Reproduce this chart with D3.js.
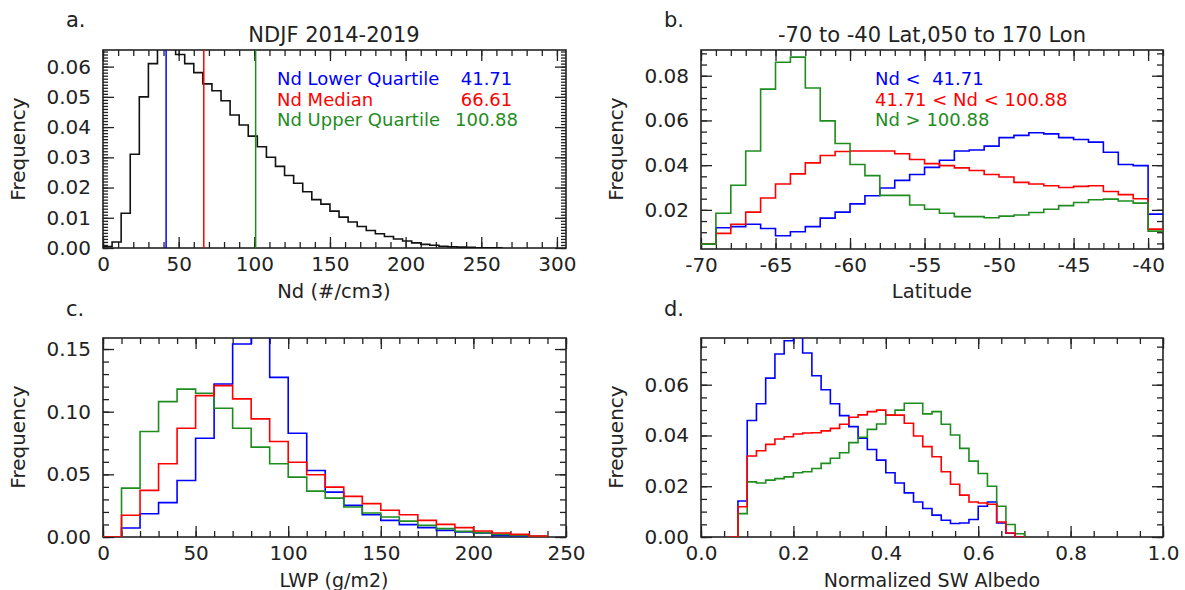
<!DOCTYPE html>
<html>
<head>
<meta charset="utf-8">
<script src="https://cdn.jsdelivr.net/npm/d3@7"></script>
<style>
body { margin: 0; background: #fff; }
svg text { font-family: "DejaVu Sans", sans-serif; fill: #222; }
</style>
</head>
<body>
<svg id="chart" width="1185" height="590"></svg>
<script>
// ---- panel a: Nd histogram (bins of 6 #/cm3 starting at 0)
var ndBinStart = 0, ndBinWidth = 6;
var ndFreq = [0.0005, 0.002, 0.0115, 0.031, 0.050, 0.061, 0.067, 0.067, 0.064, 0.061,
	0.058, 0.0543, 0.052, 0.0487, 0.044, 0.0407, 0.037, 0.0335, 0.030, 0.027,
	0.024, 0.0214, 0.0186, 0.016, 0.0145, 0.0122, 0.0102, 0.0086, 0.0071, 0.0058,
	0.0047, 0.0038, 0.0030, 0.0023, 0.0017, 0.0012, 0.0009, 0.0006, 0.0004, 0.0003,
	0.0002, 0.0001, 0.0001, 0.00005];
var quartileNames = ['Nd Lower Quartile', 'Nd Median', 'Nd Upper Quartile'];
var quartileValues = [41.71, 66.61, 100.88];

var groupColors = ['#0000ff', '#ff0000', '#1e8c1e'];

// ---- panel b: latitude histograms (1 degree bins from -70)
var latBinStart = -70, latBinWidth = 1;
var latLow = [0.0047, 0.012, 0.0125, 0.0136, 0.0117, 0.0084, 0.0102, 0.0125, 0.0163, 0.019,
	0.0227, 0.0263, 0.0298, 0.0332, 0.0358, 0.039, 0.0422, 0.0463, 0.0468, 0.0485,
	0.0523, 0.0533, 0.0545, 0.054, 0.0523, 0.0515, 0.0503, 0.0458, 0.0403, 0.0398, 0.0181];
var latMid = [0.0047, 0.0095, 0.0136, 0.019, 0.0253, 0.0316, 0.0361, 0.041, 0.0443, 0.0461,
	0.0463, 0.0463, 0.0463, 0.0451, 0.0425, 0.0407, 0.0398, 0.0388, 0.0376, 0.0358,
	0.0347, 0.0323, 0.0316, 0.0308, 0.030, 0.0305, 0.0308, 0.0282, 0.0268, 0.025, 0.0114];
var latHigh = [0.0047, 0.0185, 0.031, 0.0463, 0.074, 0.086, 0.0883, 0.0745, 0.0598, 0.0497,
	0.0403, 0.0353, 0.0265, 0.0265, 0.0222, 0.0203, 0.0185, 0.017, 0.017, 0.0165,
	0.0172, 0.0177, 0.0188, 0.0203, 0.0219, 0.0233, 0.0245, 0.0248, 0.024, 0.023, 0.0105];
var latLegend = ['Nd <  41.71', '41.71 < Nd < 100.88', 'Nd > 100.88'];

// ---- panel c: LWP histograms (bins of 10 g/m2 from 0)
var lwpBinStart = 0, lwpBinWidth = 10;
var lwpLow = [0, 0.0072, 0.0186, 0.0274, 0.0451, 0.0788, 0.1221, 0.154, 0.175, 0.1274,
	0.0828, 0.0531, 0.0358, 0.0252, 0.0178, 0.0133, 0.0099, 0.0075, 0.0053, 0.004,
	0.0032, 0.0013, 0.0008, 0.0003];
var lwpMid = [0, 0.0173, 0.0372, 0.0584, 0.0868, 0.1128, 0.1208, 0.1102, 0.0943, 0.0762,
	0.0597, 0.0497, 0.0398, 0.0324, 0.0266, 0.0213, 0.0178, 0.0133, 0.0101, 0.0075,
	0.0048, 0.0032, 0.0021, 0.0008];
var lwpHigh = [0, 0.039, 0.0842, 0.108, 0.118, 0.1147, 0.1027, 0.0868, 0.0717, 0.0584,
	0.0478, 0.0366, 0.031, 0.0239, 0.0191, 0.0159, 0.0127, 0.0093, 0.0067, 0.0045,
	0.0035, 0.0021, 0.0013, 0.0006];

// ---- panel d: albedo histograms (bins of 0.02 from 0.06)
var albBinStart = 0.06, albBinWidth = 0.02;
var albLow = [0, 0.0142, 0.0459, 0.0525, 0.0626, 0.0721, 0.0773, 0.082, 0.0725, 0.0635,
	0.058, 0.0525, 0.0478, 0.0435, 0.0389, 0.0345, 0.0303, 0.0253, 0.0213, 0.0174,
	0.0138, 0.0112, 0.0086, 0.0066, 0.0053, 0.0055, 0.0069, 0.0121, 0.0138, 0.0055,
	0.0015, 0];
var albMid = [0, 0.0119, 0.0319, 0.034, 0.0365, 0.0386, 0.0395, 0.0406, 0.041, 0.0411,
	0.0418, 0.0428, 0.0444, 0.0472, 0.0481, 0.0494, 0.05, 0.048, 0.048, 0.0448,
	0.0398, 0.0356, 0.0316, 0.0257, 0.0208, 0.0165, 0.0138, 0.0134, 0.0129, 0.0059,
	0.0016, 0];
var albHigh = [0, 0.0092, 0.0217, 0.0213, 0.0224, 0.023, 0.0237, 0.0253, 0.0257, 0.027,
	0.029, 0.031, 0.0332, 0.0372, 0.0393, 0.0424, 0.0445, 0.048, 0.05, 0.0527,
	0.0527, 0.0485, 0.0494, 0.0444, 0.0402, 0.0349, 0.0299, 0.025, 0.02, 0.0121,
	0.0049, 0.0013];

var svg = d3.select('#chart');
var axisColor = '#222';

// box, inward ticks on all four sides, labels left/bottom
function drawFrame(id, x, y, opt){
	var g = svg.append('g');
	var x0 = x.range()[0], x1 = x.range()[1];
	var yb = y.range()[0], yt = y.range()[1];

	var parts = [
		[d3.axisBottom(x).tickValues(opt.xMinor), 'translate(0,' + yb + ')', 6, false],
		[d3.axisTop(x).tickValues(opt.xMinor), 'translate(0,' + yt + ')', 6, false],
		[d3.axisLeft(y).tickValues(opt.yMinor), 'translate(' + x0 + ',0)', opt.yMinorLen || 6, false],
		[d3.axisRight(y).tickValues(opt.yMinor), 'translate(' + x1 + ',0)', opt.yMinorLen || 6, false],
		[d3.axisBottom(x).tickValues(opt.xMajor).tickFormat(opt.xFormat), 'translate(0,' + yb + ')', 11, true, 9],
		[d3.axisTop(x).tickValues(opt.xMajor), 'translate(0,' + yt + ')', 11, false],
		[d3.axisLeft(y).tickValues(opt.yMajor).tickFormat(opt.yFormat), 'translate(' + x0 + ',0)', 11, true, 12],
		[d3.axisRight(y).tickValues(opt.yMajor), 'translate(' + x1 + ',0)', 11, false]
	];
	parts.forEach(function(p){
		var ax = p[0].tickSizeInner(-p[2]).tickSizeOuter(0).tickPadding(p[4] || 12);
		if (!p[3]) ax.tickFormat('');
		var ga = g.append('g').attr('transform', p[1]).call(ax);
		ga.select('.domain').remove();
		ga.selectAll('line').attr('stroke', axisColor).attr('stroke-width', 1.3);
		ga.selectAll('text').attr('font-size', 20).attr('fill', '#222')
			.style('font-family', '"DejaVu Sans", sans-serif');
	});

	g.append('rect')
		.attr('x', x0).attr('y', yt)
		.attr('width', x1 - x0).attr('height', yb - yt)
		.attr('fill', 'none').attr('stroke', axisColor).attr('stroke-width', 1.6);

	svg.append('clipPath').attr('id', id)
		.append('rect').attr('x', x0).attr('y', yt)
		.attr('width', x1 - x0).attr('height', yb - yt);
	return g;
}

function stepPath(x, y, start, width, vals, dropEnd){
	var p = 'M' + x(start) + ',' + y(vals[0]);
	for (var i = 0; i < vals.length; i++){
		p += 'H' + x(start + (i + 1) * width);
		if (i + 1 < vals.length) p += 'V' + y(vals[i + 1]);
	}
	if (dropEnd) p += 'V' + y(0);
	return p;
}

function drawHist(id, x, y, start, width, vals, color, dropEnd){
	svg.append('path')
		.attr('clip-path', 'url(#' + id + ')')
		.attr('d', stepPath(x, y, start, width, vals, dropEnd))
		.attr('fill', 'none')
		.attr('stroke', color)
		.attr('stroke-width', 1.6);
}

function label(txt, x, y, size, anchor, color, rotate){
	var t = svg.append('text')
		.attr('font-size', size)
		.attr('text-anchor', anchor || 'start')
		.style('white-space', 'pre')
		.text(txt);
	if (color) t.style('fill', color);
	if (rotate){
		t.attr('transform', 'translate(' + x + ',' + y + ') rotate(-90)');
	}else{
		t.attr('x', x).attr('y', y);
	}
	return t;
}

var f2 = d3.format('.2f');
var plainInt = function(d){ return String(d); }; // keep ascii hyphen for negatives

// ================= panel a
var xa = d3.scaleLinear().domain([0, 306]).range([103, 566]);
var ya = d3.scaleLinear().domain([0, 0.0655]).range([248, 50]);
drawFrame('clipA', xa, ya, {
	xMajor: d3.range(0, 301, 50), xMinor: d3.range(0, 306, 10), xFormat: plainInt,
	yMajor: d3.range(0, 0.0651, 0.01), yMinor: d3.range(0, 0.0655, 0.001), yFormat: f2,
	yMinorLen: 5
});
drawHist('clipA', xa, ya, ndBinStart, ndBinWidth, ndFreq, '#111', false);
quartileValues.forEach(function(v, i){
	svg.append('line')
		.attr('x1', xa(v)).attr('x2', xa(v))
		.attr('y1', ya.range()[0]).attr('y2', ya.range()[1])
		.attr('stroke', groupColors[i]).attr('stroke-width', 1.5);
	label(quartileNames[i], 277, 85 + i * 20.5, 18, 'start', groupColors[i]);
	label(String(f2(v)).padStart(6, ' '), 455, 85 + i * 20.5, 18, 'start', groupColors[i]);
});
label('a.', 66, 27, 21);
label('NDJF 2014-2019', 334, 42, 21, 'middle');
label('Nd (#/cm3)', 334, 298, 19.5, 'middle');
label('Frequency', 25, 149, 20, 'middle', null, true);

// ================= panel b
var xb = d3.scaleLinear().domain([-70, -39]).range([701, 1163]);
var yb = d3.scaleLinear().domain([0.0025, 0.0915]).range([249, 50]);
drawFrame('clipB', xb, yb, {
	xMajor: d3.range(-70, -39.5, 5), xMinor: d3.range(-70, -38.9, 1), xFormat: plainInt,
	yMajor: [0.02, 0.04, 0.06, 0.08], yMinor: d3.range(0.005, 0.0915, 0.005), yFormat: f2
});
[latLow, latMid, latHigh].forEach(function(vals, i){
	drawHist('clipB', xb, yb, latBinStart, latBinWidth, vals, groupColors[i], false);
});
latLegend.forEach(function(t, i){
	label(t, 875, 85 + i * 20.5, 18, 'start', groupColors[i]);
});
label('b.', 664, 27, 21);
label('-70 to -40 Lat,050 to 170 Lon', 932, 42, 21, 'middle');
label('Latitude', 932, 298, 19.5, 'middle');
label('Frequency', 623, 149, 20, 'middle', null, true);

// ================= panel c
var xc = d3.scaleLinear().domain([0, 250]).range([103, 566]);
var yc = d3.scaleLinear().domain([0, 0.1588]).range([537, 338]);
drawFrame('clipC', xc, yc, {
	xMajor: d3.range(0, 251, 50), xMinor: d3.range(0, 251, 10), xFormat: plainInt,
	yMajor: [0, 0.05, 0.10, 0.15], yMinor: d3.range(0, 0.1588, 0.01), yFormat: f2
});
[lwpLow, lwpHigh, lwpMid].forEach(function(vals, k){
	var i = [0, 2, 1][k];
	drawHist('clipC', xc, yc, lwpBinStart, lwpBinWidth, vals, groupColors[i], false);
});
label('c.', 66, 316, 21);
label('LWP (g/m2)', 334, 587, 19, 'middle');
label('Frequency', 25, 437, 20, 'middle', null, true);

// ================= panel d
var xd = d3.scaleLinear().domain([0, 1]).range([701, 1163]);
var yd = d3.scaleLinear().domain([0, 0.0784]).range([537, 338]);
drawFrame('clipD', xd, yd, {
	xMajor: d3.range(0, 1.01, 0.2), xMinor: d3.range(0, 1.01, 0.05), xFormat: d3.format('.1f'),
	yMajor: [0, 0.02, 0.04, 0.06], yMinor: d3.range(0, 0.0784, 0.005), yFormat: f2
});
[albLow, albHigh, albMid].forEach(function(vals, k){
	var i = [0, 2, 1][k];
	drawHist('clipD', xd, yd, albBinStart, albBinWidth, vals, groupColors[i], true);
});
label('d.', 664, 316, 21);
label('Normalized SW Albedo', 932, 587, 19, 'middle');
label('Frequency', 623, 437, 20, 'middle', null, true);
</script>
</body>
</html>
